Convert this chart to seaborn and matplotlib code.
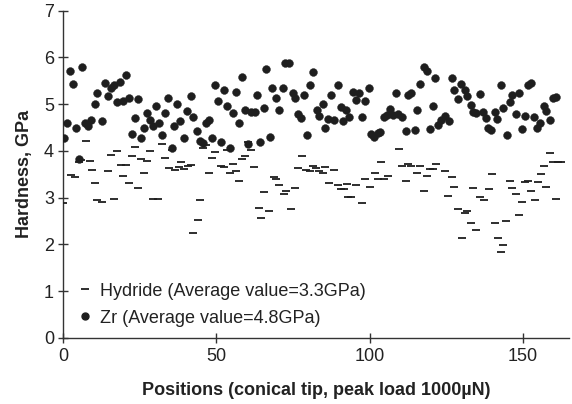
import matplotlib
matplotlib.use("Agg")
import matplotlib.pyplot as plt
import seaborn as sns
import pandas as pd
from matplotlib.lines import Line2D

zr_x = [0.3, 1.4, 2.3, 3.4, 4.3, 5.2, 6.3, 7.2, 8.3, 9.2, 10.3, 11.2, 12.6, 13.6, 14.7, 15.6, 16.6, 17.5,
        18.6, 19.6, 20.5, 21.5, 22.5, 23.4, 24.5, 25.4, 26.4, 27.5, 28.4, 29.4, 30.2, 31.3, 32.4, 33.3,
        34.4, 35.4, 36.2, 37.3, 38.3, 39.5, 40.4, 41.7, 42.4, 43.6, 44.7, 45.5, 46.6, 47.7, 48.5, 49.6,
        50.6, 51.6, 52.6, 53.4, 54.5, 55.5, 56.4, 57.5, 58.5, 59.4, 60.4, 61.3, 62.6, 63.4, 64.3, 65.4,
        66.3, 67.6, 68.3, 69.4, 70.5, 71.7, 72.4, 73.8, 74.9, 75.7, 76.5, 77.6, 78.7, 79.5, 80.6, 81.4,
        82.7, 83.6, 84.7, 85.5, 86.5, 87.5, 88.5, 89.6, 90.5, 91.4, 92.3, 93.4, 94.5, 95.5, 96.4, 97.5,
        98.6, 99.7, 100.4, 101.5, 102.6, 103.5, 104.8, 105.7, 106.6, 107.5, 108.6, 109.1, 110.5, 111.7,
        112.6, 113.5, 114.6, 115.5, 116.5, 117.6, 118.6, 119.5, 120.6, 121.4, 122.4, 123.3, 124.4, 125.8,
        126.9, 127.6, 128.7, 129.8, 130.9, 131.8, 132.9, 133.8, 134.7, 135.8, 136.9, 137.8, 138.7, 139.6,
        140.7, 141.6, 142.7, 143.6, 144.7, 145.6, 146.5, 147.6, 148.7, 149.6, 150.5, 151.6, 152.7, 153.5,
        154.6, 155.6, 156.7, 157.6, 158.9, 159.7, 160.8]
zr_y = [4.27, 4.59, 5.70, 5.43, 4.50, 3.82, 5.79, 4.59, 4.53, 4.65, 5.00, 5.23, 4.63, 5.46, 5.18, 5.34, 5.41, 5.05,
        5.47, 5.07, 5.63, 5.14, 4.36, 4.70, 5.11, 4.27, 4.50, 4.82, 4.66, 4.53, 4.95, 4.59, 4.34, 4.82,
        5.14, 4.07, 4.53, 5.00, 4.63, 4.27, 4.85, 5.18, 4.72, 4.43, 4.21, 4.16, 4.59, 4.65, 4.27, 5.40,
        5.07, 4.20, 5.30, 4.95, 4.07, 4.82, 5.27, 4.59, 5.59, 4.88, 4.15, 4.84, 4.84, 5.20, 4.18, 4.91,
        5.75, 4.30, 5.34, 5.14, 4.88, 5.34, 5.87, 5.87, 5.23, 5.14, 4.78, 4.70, 5.20, 4.34, 5.42, 5.68,
        4.88, 4.75, 5.00, 4.50, 4.68, 5.20, 4.65, 5.40, 4.93, 4.63, 4.88, 4.72, 5.27, 5.09, 5.23, 4.72,
        5.07, 5.34, 4.36, 4.30, 4.38, 4.40, 4.73, 4.77, 4.90, 4.77, 5.23, 4.78, 4.73, 4.43,
        5.20, 5.23, 4.45, 4.88, 5.43, 5.80, 5.71, 4.46, 4.95, 5.55, 4.56, 4.66, 4.75, 4.64,
        5.55, 5.30, 5.11, 5.43, 5.30, 5.18, 4.98, 4.83, 4.80, 5.21, 4.84, 4.71, 4.48, 4.45,
        4.84, 4.68, 5.40, 4.91, 4.34, 5.04, 5.20, 4.78, 5.23, 4.46, 4.75, 5.41, 5.46, 4.72,
        4.48, 4.59, 4.95, 4.85, 4.65, 5.13, 5.16]

hy_x = [0.0, 2.7, 4.1, 5.2, 6.0, 7.4, 8.7, 9.6, 10.4, 11.2, 12.6, 14.7, 15.6, 16.6, 17.5, 18.8, 19.7, 20.5,
        21.5, 22.6, 23.5, 24.5, 25.4, 26.4, 27.5, 28.4, 29.5, 31.0, 32.4, 33.3, 34.6, 35.4, 36.6, 37.7,
        38.5, 39.5, 40.9, 41.7, 42.4, 43.9, 44.6, 45.5, 46.6, 47.7, 48.5, 49.6, 51.5, 52.6, 53.4, 54.5,
        55.3, 56.4, 57.5, 58.5, 59.3, 60.4, 61.3, 62.4, 63.8, 64.5, 65.6, 67.3, 68.7, 69.4, 70.5, 71.9,
        72.7, 74.3, 75.6, 76.5, 77.8, 79.2, 80.6, 81.4, 82.5, 83.5, 84.7, 85.5, 86.6, 88.5, 89.6, 90.5,
        91.5, 92.5, 93.0, 93.9, 95.5, 97.5, 98.6, 100.1, 101.7, 102.6, 103.7, 104.8, 105.9, 109.5, 110.5,
        111.7, 112.6, 113.5, 115.5, 116.5, 117.6, 118.6, 119.5, 120.6, 121.7, 124.6, 125.5, 126.9, 127.6,
        128.7, 130.0, 130.9, 131.8, 132.9, 133.8, 134.7, 135.8, 137.3, 138.9, 139.8, 140.7, 141.8, 142.7,
        143.4, 144.5, 145.6, 146.5, 147.6, 148.7, 149.7, 150.5, 151.6, 152.7, 153.8, 154.8, 155.7, 156.8,
        157.6, 158.7, 159.7, 160.8, 161.4, 162.5]
hy_y = [2.88, 3.48, 3.43, 3.76, 3.80, 4.21, 3.78, 3.59, 3.31, 2.95, 2.91, 3.57, 3.91, 2.98, 4.00, 3.70, 3.46, 3.70,
        3.31, 3.89, 4.08, 3.21, 3.82, 3.53, 3.78, 4.00, 2.98, 2.98, 4.15, 3.85, 3.63, 4.02, 3.59, 3.65,
        3.76, 3.61, 3.68, 3.70, 2.24, 2.53, 2.95, 4.06, 4.13, 3.53, 3.85, 3.98, 3.68, 3.65, 4.02, 3.53,
        3.72, 3.57, 3.36, 3.82, 3.89, 4.20, 4.01, 3.66, 2.78, 2.56, 3.11, 2.72, 3.43, 3.39, 3.27, 3.08,
        3.14, 2.76, 3.20, 3.63, 3.88, 3.59, 3.57, 3.68, 3.63, 3.57, 3.53, 3.66, 3.31, 3.59, 3.27, 3.18,
        3.18, 3.30, 3.01, 3.01, 3.27, 2.88, 3.40, 3.23, 3.52, 3.40, 3.76, 3.40, 3.46, 4.04, 3.68,
        3.36, 3.71, 3.68, 3.53, 3.68, 3.14, 3.46, 3.61, 3.61, 3.72, 3.57, 3.04, 3.43, 3.23,
        2.76, 2.14, 2.68, 2.71, 2.46, 3.20, 2.31, 3.01, 2.95, 3.18, 3.50, 2.46, 2.14, 1.84,
        1.99, 2.50, 3.36, 3.21, 3.08, 2.63, 2.91, 3.34, 3.36, 3.15, 2.95, 3.34, 3.50, 3.68,
        3.23, 3.95, 3.76, 2.97, 3.76, 3.76]

labels = ["Hydride (Average value=3.3GPa)", "Zr (Average value=4.8GPa)"]
x_ticks = [0, 50, 100, 150]
y_ticks = [0, 1, 2, 3, 4, 5, 6, 7]

sns.set_style("white")
plt.rcParams['font.family'] = ['Liberation Sans', 'DejaVu Sans']

fig = plt.figure(figsize=(5.72, 4.04), dpi=100)
ax = fig.add_axes([0.110, 0.164, 0.885, 0.8095])

mark = "#1e1e1e"
zr = pd.DataFrame({"x": zr_x, "y": zr_y})
hy = pd.DataFrame({"x": hy_x, "y": hy_y})
sns.scatterplot(data=hy, x="x", y="y", marker="_", s=30, color=mark, linewidth=1.3, ax=ax, zorder=3)
sns.scatterplot(data=zr, x="x", y="y", marker="o", s=32, color=mark, edgecolor=mark, linewidth=0.3, ax=ax, zorder=4)

ax.set_xlim(0, 165)
ax.set_ylim(0, 7)
ax.set_xticks(x_ticks)
ax.set_yticks(y_ticks)
for s in ["top", "right"]:
    ax.spines[s].set_visible(False)
for s in ["left", "bottom"]:
    ax.spines[s].set_color("#333333")
    ax.spines[s].set_linewidth(1.0)
ax.tick_params(axis="both", direction="inout", length=7, width=1.0, color="#333333",
               labelsize=13, labelcolor="#222222", left=True, bottom=True)
ax.tick_params(axis="y", pad=3)
ax.tick_params(axis="x", pad=4)
ax.set_xlabel("Positions (conical tip, peak load 1000\u00b5N)", fontsize=13, fontweight="bold",
              color="#222222", labelpad=12)
ax.set_ylabel("Hardness, GPa", fontsize=13, fontweight="bold", color="#222222", labelpad=8)

handles = [Line2D([], [], marker="_", linestyle="none", color=mark, markersize=6, markeredgewidth=1.3),
           Line2D([], [], marker="o", linestyle="none", color=mark, markersize=5)]
ax.legend(handles, labels, loc="lower left", bbox_to_anchor=(0.0, -0.016), frameon=False,
          fontsize=13, handlelength=0.7, handletextpad=0.45, labelspacing=0.55, labelcolor="#222222")

fig.savefig("out.png", dpi=100)
